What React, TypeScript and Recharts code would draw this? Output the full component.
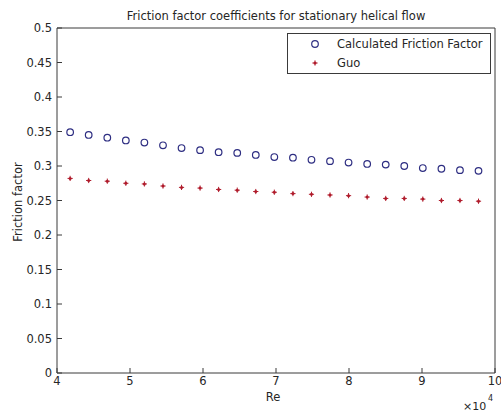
import { ScatterChart, Scatter, XAxis, YAxis, Legend } from 'recharts';

// Reynolds numbers
const reynolds = [
    41800, 44340, 46890, 49430, 51970, 54520, 57060, 59600, 62140, 64690, 67230, 69770,
    72320, 74860, 77400, 79940, 82490, 85030, 87570, 90110, 92660, 95200, 97740,
];
const calculated = [
    0.349, 0.345, 0.341, 0.337, 0.334, 0.330, 0.326, 0.323, 0.320, 0.319, 0.316, 0.313,
    0.312, 0.309, 0.307, 0.305, 0.303, 0.302, 0.300, 0.297, 0.296, 0.294, 0.293,
];
const guo = [
    0.282, 0.279, 0.278, 0.275, 0.274, 0.271, 0.269, 0.268, 0.266, 0.265, 0.263, 0.262,
    0.260, 0.259, 0.258, 0.257, 0.255, 0.253, 0.253, 0.252, 0.250, 0.250, 0.249,
];
const xTicks = [40000, 50000, 60000, 70000, 80000, 90000, 100000];
const yTicks = [0, 0.05, 0.1, 0.15, 0.2, 0.25, 0.3, 0.35, 0.4, 0.45, 0.5];

const calcData = reynolds.map((re, i) => ({ re, f: calculated[i] }));
const guoData = reynolds.map((re, i) => ({ re, f: guo[i] }));

const FONT = '"DejaVu Sans", sans-serif';
const INK = '#262626';
const AXIS = '#3a3a3a';
const BLUE = '#2e2e82';
const RED = '#b01c2c';

const Ring = ({ cx, cy }: any) => (
    <circle cx={cx} cy={cy} r={3.3} fill="none" stroke={BLUE} strokeWidth={1.2} />
);

const Star = ({ cx, cy }: any) => (
    <g fill={RED} stroke={RED}>
        <circle cx={cx} cy={cy} r={1.5} stroke="none" />
        <line x1={cx - 2.6} y1={cy} x2={cx + 2.6} y2={cy} strokeWidth={1} />
        <line x1={cx} y1={cy - 2.6} x2={cx} y2={cy + 2.6} strokeWidth={1} />
    </g>
);

function LegendBox() {
    return (
        <div style={{ width: 202, height: 39, border: `1px solid ${AXIS}`, background: '#fff', fontFamily: FONT, fontSize: 11.5, color: INK }}>
            <svg width={202} height={39}>
                <Ring cx={27} cy={10} />
                <text x={49} y={14} fill={INK}>Calculated Friction Factor</text>
                <Star cx={27} cy={29} />
                <text x={49} y={33} fill={INK}>Guo</text>
            </svg>
        </div>
    );
}

export default function App() {
    const tickStyle = { fill: INK, fontSize: 11.5, fontFamily: FONT };
    return (
        <div style={{ position: 'absolute', top: 0, left: 0, width: 501, height: 412, background: '#fff' }}>
            <ScatterChart width={501} height={412} margin={{ top: 27, right: 5, bottom: 0, left: 0 }}>
                <XAxis
                    dataKey="re"
                    type="number"
                    domain={[40000, 100000]}
                    ticks={xTicks}
                    tickFormatter={(v) => String(v / 10000)}
                    height={39}
                    tickSize={-5}
                    tickMargin={9}
                    tick={tickStyle}
                    stroke={AXIS}
                    interval={0}
                />
                <XAxis
                    xAxisId="top"
                    orientation="top"
                    type="number"
                    domain={[40000, 100000]}
                    ticks={xTicks}
                    height={1}
                    tickSize={-5}
                    tick={false}
                    stroke={AXIS}
                    interval={0}
                />
                <YAxis
                    dataKey="f"
                    type="number"
                    domain={[0, 0.5]}
                    ticks={yTicks}
                    width={57}
                    tickSize={-5}
                    tickMargin={10}
                    tick={tickStyle}
                    stroke={AXIS}
                    interval={0}
                />
                <YAxis
                    yAxisId="right"
                    orientation="right"
                    type="number"
                    domain={[0, 0.5]}
                    ticks={yTicks}
                    width={1}
                    tickSize={-5}
                    tick={false}
                    stroke={AXIS}
                    interval={0}
                />
                <Legend
                    layout="vertical"
                    align="center"
                    verticalAlign="middle"
                    content={() => <LegendBox />}
                    wrapperStyle={{ left: 287, top: 33, width: 204, height: 41 }}
                />
                <Scatter name="Calculated Friction Factor" data={calcData} shape={Ring} isAnimationActive={false} />
                <Scatter name="Guo" data={guoData} shape={Star} isAnimationActive={false} />
            </ScatterChart>
            <svg width={501} height={412} style={{ position: 'absolute', top: 0, left: 0, pointerEvents: 'none' }}>
                <g fontFamily={FONT} fontSize={11.5} fill={INK}>
                    <text x={276} y={19.5} textAnchor="middle">Friction factor coefficients for stationary helical flow</text>
                    <text x={273} y={401} textAnchor="middle">Re</text>
                    <text x={21.5} y={202} textAnchor="middle" transform="rotate(-90 21.5 202)">Friction factor</text>
                    <text x={463} y={410} fontSize={11}>×10</text>
                    <text x={488} y={401} fontSize={8}>4</text>
                </g>
            </svg>
        </div>
    );
}
